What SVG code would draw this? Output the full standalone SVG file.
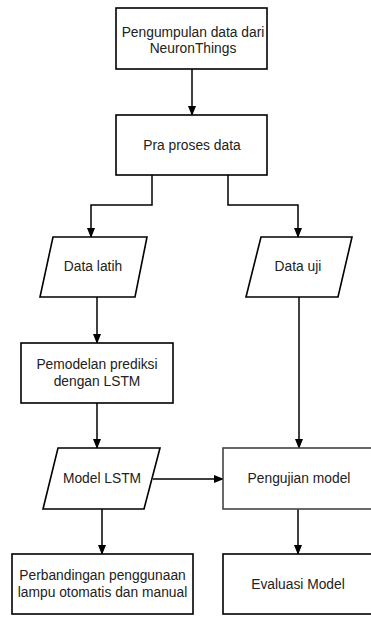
<svg xmlns="http://www.w3.org/2000/svg" width="371" height="617" viewBox="0 0 371 617">
<defs>
<marker id="arr" markerWidth="10" markerHeight="10" refX="9" refY="5" orient="auto" markerUnits="userSpaceOnUse">
<path d="M0,1 L10,5 L0,9 Z" fill="#000"/>
</marker>
<style>
.n{fill:#fff;stroke:#000;stroke-width:1.6}
.g{fill:#fff;stroke:#444;stroke-width:1.6}
.c{fill:none;stroke:#000;stroke-width:1.5;marker-end:url(#arr)}
text{font-family:"Liberation Sans",Arial,sans-serif;font-size:13.8px;fill:#222;text-anchor:middle}
</style>
</defs>
<rect width="371" height="617" fill="#fff"/>
<g id="connectors">
<path class="c" d="M192,69 V115"/>
<path class="c" d="M152,175 V205 H91 V237"/>
<path class="c" d="M228,175 V205 H298 V237"/>
<path class="c" d="M97,297 V343"/>
<path class="c" d="M299,297 V448"/>
<path class="c" d="M97,403 V448"/>
<path class="c" d="M153,479 H223"/>
<path class="c" d="M102,509 V554"/>
<path class="c" d="M298,509 V554"/>
</g>
<g id="n1"><rect class="n" x="116" y="8" width="151" height="61"/><text x="193" y="37">Pengumpulan data dari</text><text x="193" y="53">NeuronThings</text></g>
<g id="n2"><rect class="n" x="116" y="115" width="151" height="60"/><text x="192" y="150">Pra proses data</text></g>
<g id="n3"><polygon class="n" points="53,237 147,237 135,297 40,297"/><text x="93" y="271">Data latih</text></g>
<g id="n4"><polygon class="n" points="261,237 352,237 338,297 246,297"/><text x="298" y="271">Data uji</text></g>
<g id="n5"><rect class="n" x="21" y="343" width="152" height="60"/><text x="97" y="369">Pemodelan prediksi</text><text x="97" y="386">dengan LSTM</text></g>
<g id="n6"><polygon class="n" points="58,448 160,448 144,509 43,509"/><text x="102" y="483">Model LSTM</text></g>
<g id="n7"><rect class="g" x="223" y="448" width="150" height="61"/><text x="299" y="483">Pengujian model</text></g>
<g id="n8"><rect class="n" x="12" y="554" width="181" height="60"/><text x="102.5" y="580">Perbandingan penggunaan</text><text x="102.5" y="597">lampu otomatis dan manual</text></g>
<g id="n9"><rect class="n" x="223" y="554" width="150" height="60"/><text x="298" y="589">Evaluasi Model</text></g>
</svg>
